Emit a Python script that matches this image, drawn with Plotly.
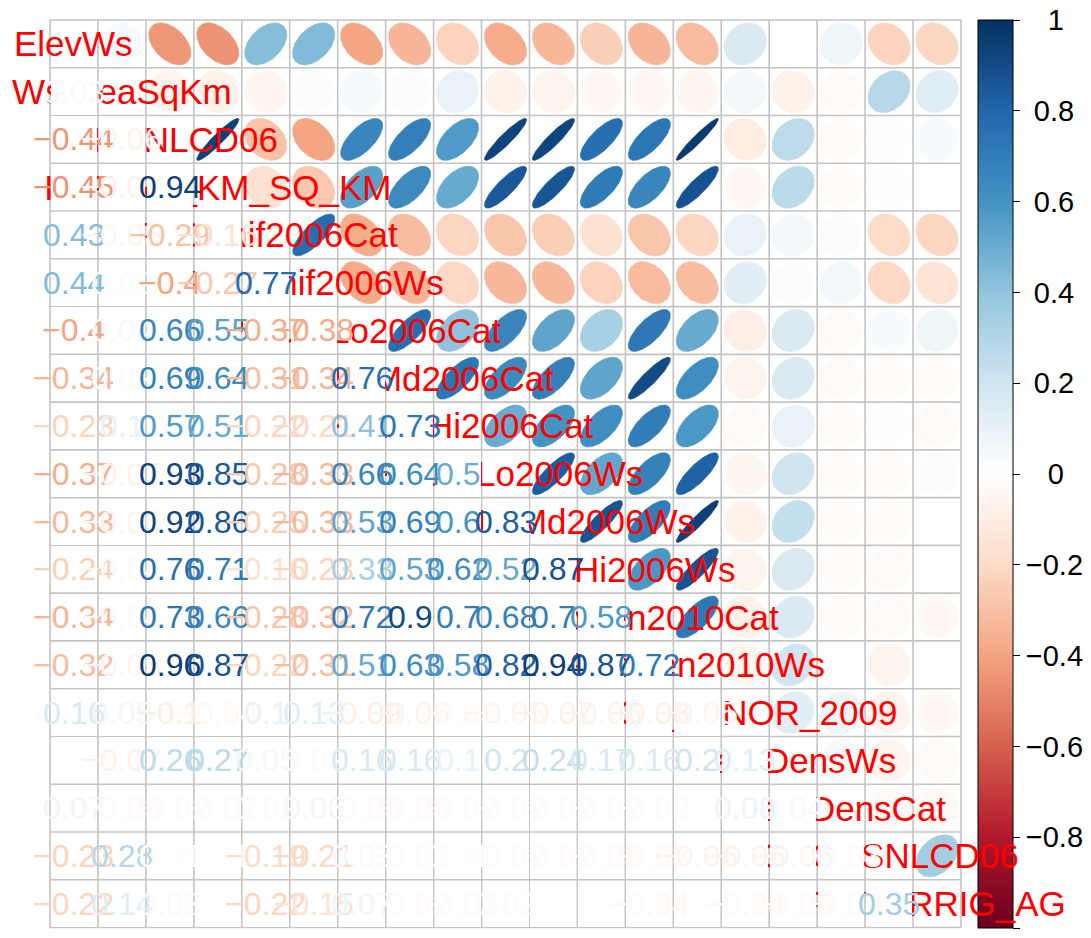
import numpy as np
import plotly.graph_objects as go

# ---------------- data ----------------
variables = ["ElevWs", "WsAreaSqKm", "IMP_NLCD06", "IMPERV_KM_SQ_KM",
             "PctConif2006Cat", "PctConif2006Ws", "PctUrbLo2006Cat",
             "PctUrbMd2006Cat", "PctUrbHi2006Cat", "PctUrbLo2006Ws",
             "PctUrbMd2006Ws", "PctUrbHi2006Ws", "PopDen2010Cat",
             "PopDen2010Ws", "PCT_MINOR_2009", "DamDensWs", "DamDensCat",
             "CROPSNLCD06", "PCT_IRRIG_AG"]

# lower-triangle correlations, row i holds corr with variables 1..i-1
row02 = [0.03]
row03 = [-0.44, -0.06]
row04 = [-0.45, -0.07, 0.94]
row05 = [0.43, -0.05, -0.29, -0.16]
row06 = [0.44, 0.02, -0.40, -0.27, 0.77]
row07 = [-0.40, 0.04, 0.66, 0.55, -0.37, -0.38]
row08 = [-0.34, 0.02, 0.69, 0.64, -0.31, -0.34, 0.76]
row09 = [-0.23, 0.10, 0.57, 0.51, -0.22, -0.21, 0.41, 0.73]
row10 = [-0.37, -0.07, 0.93, 0.85, -0.28, -0.33, 0.66, 0.64, 0.50]
row11 = [-0.33, -0.06, 0.92, 0.86, -0.25, -0.33, 0.53, 0.69, 0.60, 0.83]
row12 = [-0.24, -0.04, 0.76, 0.71, -0.16, -0.23, 0.33, 0.53, 0.62, 0.52, 0.87]
row13 = [-0.34, -0.04, 0.73, 0.66, -0.28, -0.32, 0.72, 0.90, 0.70, 0.68, 0.70,
         0.58]
row14 = [-0.32, -0.05, 0.96, 0.87, -0.22, -0.31, 0.51, 0.63, 0.58, 0.82, 0.94,
         0.87, 0.72]
row15 = [0.16, 0.05, -0.10, -0.04, 0.10, 0.13, -0.09, -0.06, -0.03, -0.05,
         -0.07, -0.06, -0.08, -0.05]
row16 = [0.00, -0.07, 0.26, 0.27, 0.05, 0.02, 0.16, 0.16, 0.10, 0.20, 0.24,
         0.17, 0.16, 0.20, 0.13]
row17 = [0.07, -0.03, -0.02, -0.02, 0.02, 0.06, -0.03, -0.03, -0.02, -0.02,
         -0.02, -0.02, -0.02, 0.00, 0.08, 0.04]
row18 = [-0.23, 0.28, 0.01, 0.01, -0.19, -0.21, 0.03, -0.02, 0.01, -0.02,
         -0.02, -0.03, -0.03, -0.06, -0.06, -0.06, -0.03]
row19 = [-0.22, 0.14, 0.03, 0.00, -0.22, -0.15, 0.07, -0.02, -0.03, 0.02,
         0.00, 0.00, -0.04, 0.00, -0.04, -0.03, -0.03, 0.35]

cbar_ticks = [-1, -0.8, -0.6, -0.4, -0.2, 0, 0.2, 0.4, 0.6, 0.8, 1]
cbar_labels = ["\u22121", "\u22120.8", "\u22120.6", "\u22120.4", "\u22120.2",
               "0", "0.2", "0.4", "0.6", "0.8", "1"]

palette = ["#67001F", "#B2182B", "#D6604D", "#F4A582", "#FDDBC7", "#FFFFFF",
           "#D1E5F0", "#92C5DE", "#4393C3", "#2166AC", "#053061"]

# ---------------- build matrix ----------------
lower_rows = [row02, row03, row04, row05, row06, row07, row08, row09, row10,
              row11, row12, row13, row14, row15, row16, row17, row18, row19]
n = len(variables)
M = np.eye(n)
for i, row in enumerate(lower_rows, start=1):
    for j, v in enumerate(row):
        M[i, j] = v
        M[j, i] = v

pal_rgb = [tuple(int(h[k:k + 2], 16) for k in (1, 3, 5)) for h in palette]


def col_of(v):
    t = (v + 1) / 2 * (len(pal_rgb) - 1)
    i = int(np.clip(np.floor(t), 0, len(pal_rgb) - 2))
    f = t - i
    a, b = pal_rgb[i], pal_rgb[i + 1]
    c = [round(a[k] + (b[k] - a[k]) * f) for k in range(3)]
    return "rgb(%d,%d,%d)" % tuple(c)


def fmt(v):
    r = round(v, 2)
    if abs(r) < 0.005:
        return "0"
    s = ("%.2f" % r).rstrip("0").rstrip(".")
    return s.replace("-", "\u2212")


def centre_pad(label):
    # colour-bar labels are centred in the reference; pad narrower ones
    if label.startswith("\u2212") and "." in label:
        return label
    if label == "\u22121":
        return "\u2009\u2009" + label
    if "." in label:
        return "\u2008" + label
    return "\u2007\u2009" + label


FONT = "Liberation Sans, Arial, sans-serif"

# pixel geometry of the grid in the 1091x938 figure
W, H = 1091, 938
gx0, gx1, gy0, gy1 = 50.0, 961.0, 20.0, 927.5
cw = (gx1 - gx0) / n
ch = (gy1 - gy0) / n
xr = [0.5 - gx0 / cw, 0.5 + (W - gx0) / cw]
yr = [0.5 + (H - gy0) / ch, 0.5 - gy0 / ch]

fig = go.Figure()

# colour bar carrier (invisible markers at the upper cells)
cx, cy, cv = [], [], []
for i in range(n):
    for j in range(i + 1, n):
        cx.append(j + 1)
        cy.append(i + 1)
        cv.append(M[i, j])
colorscale = [[k / (len(palette) - 1), c] for k, c in enumerate(palette)]
fig.add_trace(go.Scatter(
    x=cx, y=cy, mode="markers", hoverinfo="skip",
    marker=dict(size=1, opacity=0, color=cv, colorscale=colorscale,
                cmin=-1, cmax=1, showscale=True,
                colorbar=dict(thickness=35, thicknessmode="pixels",
                              len=908, lenmode="pixels",
                              x=978 / W, xanchor="left", xpad=0,
                              y=1 - 20 / H, yanchor="top", ypad=0,
                              outlinewidth=1, outlinecolor="black",
                              tickmode="array", tickvals=cbar_ticks,
                              ticktext=[centre_pad(t) for t in cbar_labels],
                              ticks="outside",
                              ticklen=7, tickwidth=1, tickcolor="black",
                              tickfont=dict(size=29, color="black",
                                            family=FONT)))))

# ellipses in the upper triangle
k = np.linspace(0, 2 * np.pi, 99)
scale = 0.88
for i in range(n):
    for j in range(i + 1, n):
        rho = M[i, j]
        a = np.arccos(np.clip(rho, -1, 1))
        ex = (j + 1) + scale * np.cos(k + a / 2) / 2
        ey = (i + 1) - scale * np.cos(k - a / 2) / 2
        c = col_of(rho)
        fig.add_trace(go.Scatter(x=ex, y=ey, mode="lines", fill="toself",
                                 fillcolor=c, line=dict(color=c, width=0.6),
                                 hoverinfo="skip"))

# grid
shapes = []
for g in range(n + 1):
    p = 0.5 + g
    shapes.append(dict(type="line", xref="x", yref="y", x0=p, x1=p,
                       y0=0.5, y1=n + 0.5, layer="above",
                       line=dict(color="#C4C4C4", width=1.6)))
    shapes.append(dict(type="line", xref="x", yref="y", x0=0.5, x1=n + 0.5,
                       y0=p, y1=p, layer="above",
                       line=dict(color="#C4C4C4", width=1.6)))

annotations = []
# diagonal labels
for i, name in enumerate(variables):
    annotations.append(dict(x=i + 1, y=i + 1, xref="x", yref="y", text=name,
                            showarrow=False, xanchor="center",
                            yanchor="middle",
                            font=dict(size=35, color="#FF0000", family=FONT)))
# white backgrounds of the lower triangle cells
for i in range(n):
    for j in range(i):
        annotations.append(dict(x=j + 1, y=i + 1, xref="x", yref="y",
                                text=" ", showarrow=False, xanchor="center",
                                yanchor="middle", width=cw - 2,
                                height=ch - 2, bgcolor="white",
                                borderpad=0, borderwidth=0))
# coefficients in the lower triangle
for i in range(n):
    for j in range(i):
        v = M[i, j]
        annotations.append(dict(x=j + 1, y=i + 1, xref="x", yref="y",
                                text=fmt(v), showarrow=False,
                                xanchor="center", yanchor="middle",
                                font=dict(size=32, color=col_of(v),
                                          family=FONT)))

fig.update_layout(
    width=W, height=H, margin=dict(l=0, r=0, t=0, b=0),
    paper_bgcolor="white", plot_bgcolor="white", showlegend=False,
    xaxis=dict(range=xr, visible=False, fixedrange=True),
    yaxis=dict(range=yr, visible=False, fixedrange=True),
    shapes=shapes, annotations=annotations,
)

fig.write_html("out.html")
